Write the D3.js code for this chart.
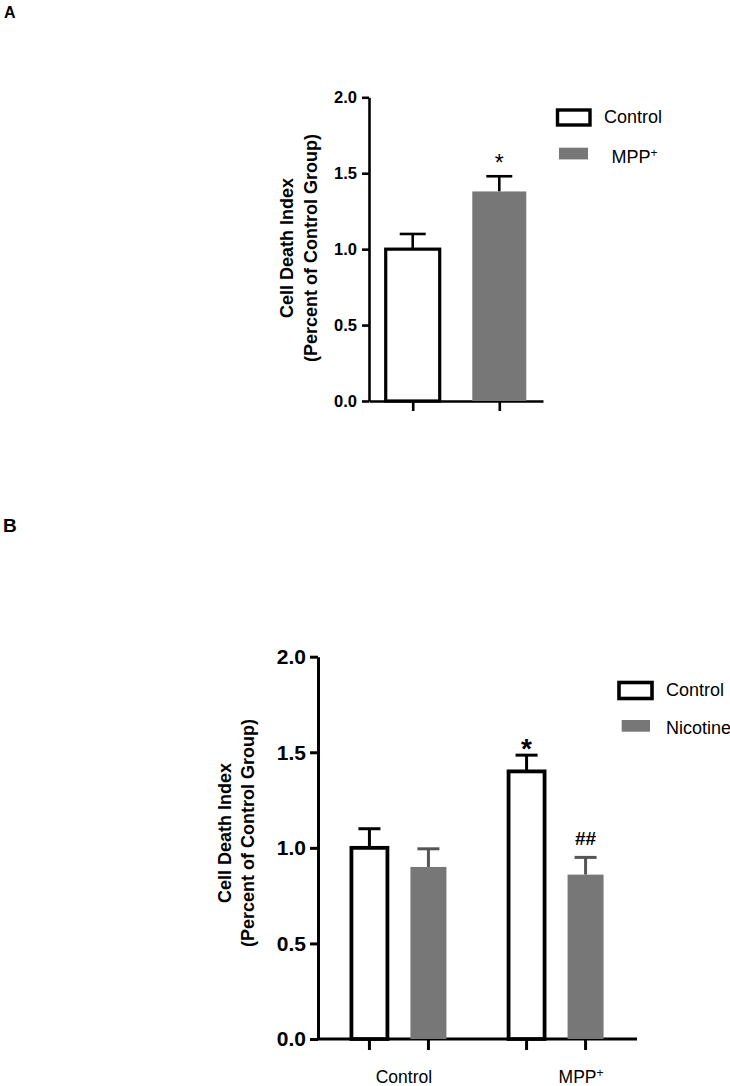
<!DOCTYPE html>
<html>
<head>
<meta charset="utf-8">
<script src="https://cdn.jsdelivr.net/npm/d3@7"></script>
<style>
  body { margin: 0; background: #fff; }
  svg { display: block; font-family: "Liberation Sans", Arial, Helvetica, sans-serif; }
</style>
</head>
<body>
<div id="chart-container"></div>
<script>
(function () {
    'use strict';

    // panel A
    var catsA = ['Control', 'MPP+'];
    var meansA = [1.00, 1.38];
    var semA = [0.10, 0.10];
    var starsA = ['', '*'];

    // panel B
    var groupsB = ['Control', 'MPP+'];
    var seriesB = ['Control', 'Nicotine'];
    var meansB = [[1.00, 0.90], [1.40, 0.86]];
    var semB = [[0.10, 0.095], [0.085, 0.09]];
    var marksB = [['', ''], ['*', '##']];

    var yTicks = [0, 0.5, 1.0, 1.5, 2.0];
    var gray = '#777777';

    var svg = d3.select('#chart-container')
        .append('svg')
        .attr('width', 730)
        .attr('height', 1086);

    // little helper for the "MPP+" labels with a raised plus
    function label(sel, txt, plusSize) {
        if (txt.slice(-1) === '+') {
            sel.text(txt.slice(0, -1));
            sel.append('tspan')
                .attr('font-size', plusSize)
                .attr('dy', '-0.5em')
                .text('+');
        } else {
            sel.text(txt);
        }
    }

    function yTitle(g, cx1, cx2, cy) {
        ['Cell Death Index', '(Percent of Control Group)'].forEach(function (t, i) {
            g.append('text')
                .attr('transform', 'translate(' + (i ? cx2 : cx1) + ',' + cy + ') rotate(-90)')
                .attr('text-anchor', 'middle')
                .attr('dy', '0.35em')
                .attr('font-size', 18)
                .attr('font-weight', 'bold')
                .text(t);
        });
    }

    function styleAxis(g, w, fs) {
        g.attr('font-family', null).attr('font-size', null);
        g.select('.domain').attr('stroke', '#000').attr('stroke-width', w);
        g.selectAll('.tick line').attr('stroke', '#000').attr('stroke-width', w);
        g.selectAll('.tick text').attr('fill', '#000').attr('font-weight', 'bold')
            .attr('font-size', fs);
    }

    // ---------------- Panel A ----------------
    svg.append('text')
        .attr('x', 4).attr('y', 18)
        .attr('font-size', 16).attr('font-weight', 'bold')
        .text('A');

    var yA = d3.scaleLinear().domain([0, 2]).range([401, 97.3]);
    var xA = d3.scalePoint().domain(catsA).range([369, 543]).padding(0.505);
    var bwA = 54;
    var gA = svg.append('g');

    var axA = gA.append('g')
        .attr('transform', 'translate(369,0)')
        .call(d3.axisLeft(yA).tickValues(yTicks).tickFormat(d3.format('.1f'))
            .tickSize(7).tickSizeOuter(0).tickPadding(5));
    styleAxis(axA, 2.6, 16.5);

    var axAx = gA.append('g')
        .attr('transform', 'translate(0,' + yA(0) + ')')
        .call(d3.axisBottom(xA).tickSize(10).tickSizeOuter(0).tickFormat(''));
    styleAxis(axAx, 2.6, 15);

    var barsA = gA.selectAll('.barA')
        .data(catsA.map(function (c, i) { return { c: c, m: meansA[i], s: semA[i], star: starsA[i], i: i }; }))
        .enter().append('g');

    barsA.append('line')
        .attr('x1', function (d) { return xA(d.c); })
        .attr('x2', function (d) { return xA(d.c); })
        .attr('y1', function (d) { return yA(d.m); })
        .attr('y2', function (d) { return yA(d.m + d.s); })
        .attr('stroke', '#000').attr('stroke-width', 2.6);
    barsA.append('line')
        .attr('x1', function (d) { return xA(d.c) - 13; })
        .attr('x2', function (d) { return xA(d.c) + 13; })
        .attr('y1', function (d) { return yA(d.m + d.s); })
        .attr('y2', function (d) { return yA(d.m + d.s); })
        .attr('stroke', '#000').attr('stroke-width', 2.6);
    barsA.append('rect')
        .attr('x', function (d) { return xA(d.c) - bwA / 2; })
        .attr('width', bwA)
        .attr('y', function (d) { return yA(d.m); })
        .attr('height', function (d) { return yA(0) - yA(d.m); })
        .attr('fill', function (d) { return d.i ? gray : '#fff'; })
        .attr('stroke', function (d) { return d.i ? 'none' : '#000'; })
        .attr('stroke-width', 3.2);
    barsA.append('text')
        .attr('x', function (d) { return xA(d.c); })
        .attr('y', function (d) { return yA(d.m + d.s) - 5; })
        .attr('text-anchor', 'middle')
        .attr('font-size', 23)
        .text(function (d) { return d.star; });

    yTitle(gA, 287, 311, 248);

    // legend A
    var legA = gA.append('g');
    legA.append('rect').attr('x', 557.5).attr('y', 110).attr('width', 32.5).attr('height', 15)
        .attr('fill', '#fff').attr('stroke', '#000').attr('stroke-width', 3.4);
    legA.append('text').attr('x', 604).attr('y', 123).attr('font-size', 18).text('Control');
    legA.append('rect').attr('x', 559).attr('y', 147.7).attr('width', 29).attr('height', 11.7)
        .attr('fill', gray);
    legA.append('text').attr('x', 611.5).attr('y', 163).attr('font-size', 18)
        .call(label, 'MPP+', 12);

    // ---------------- Panel B ----------------
    svg.append('text')
        .attr('x', 3).attr('y', 531.5)
        .attr('font-size', 19).attr('font-weight', 'bold')
        .text('B');

    var yB = d3.scaleLinear().domain([0, 2]).range([1039, 656.7]);
    var xB = d3.scalePoint().domain(groupsB).range([318, 637]).padding(0.515);
    var xSub = d3.scalePoint().domain(seriesB).range([-29.5, 29.5]);
    var bwB = 36;
    var gB = svg.append('g');

    var axB = gB.append('g')
        .attr('transform', 'translate(318,0)')
        .call(d3.axisLeft(yB).tickValues(yTicks).tickFormat(d3.format('.1f'))
            .tickSize(8).tickSizeOuter(0).tickPadding(4));
    styleAxis(axB, 3, 21);

    gB.append('line')
        .attr('x1', xB.range()[0]).attr('x2', xB.range()[1])
        .attr('y1', yB(0)).attr('y2', yB(0))
        .attr('stroke', '#000').attr('stroke-width', 3);

    var dataB = [];
    groupsB.forEach(function (g, gi) {
        seriesB.forEach(function (s, si) {
            dataB.push({ g: g, s: s, si: si, m: meansB[gi][si], e: semB[gi][si], mark: marksB[gi][si] });
        });
    });
    function cxB(d) { return xB(d.g) + xSub(d.s); }

    var barsB = gB.selectAll('.barB').data(dataB).enter().append('g');

    barsB.append('line')
        .attr('x1', cxB).attr('x2', cxB)
        .attr('y1', yB(0)).attr('y2', yB(0) + 11)
        .attr('stroke', '#000').attr('stroke-width', 3);
    barsB.append('line')
        .attr('x1', cxB).attr('x2', cxB)
        .attr('y1', function (d) { return yB(d.m); })
        .attr('y2', function (d) { return yB(d.m + d.e); })
        .attr('stroke', function (d) { return d.si ? '#555' : '#000'; })
        .attr('stroke-width', 3);
    barsB.append('line')
        .attr('x1', function (d) { return cxB(d) - 11; })
        .attr('x2', function (d) { return cxB(d) + 11; })
        .attr('y1', function (d) { return yB(d.m + d.e); })
        .attr('y2', function (d) { return yB(d.m + d.e); })
        .attr('stroke', function (d) { return d.si ? '#555' : '#000'; })
        .attr('stroke-width', 3);
    barsB.append('rect')
        .attr('x', function (d) { return cxB(d) - bwB / 2; })
        .attr('width', bwB)
        .attr('y', function (d) { return yB(d.m); })
        .attr('height', function (d) { return yB(0) - yB(d.m); })
        .attr('fill', function (d) { return d.si ? gray : '#fff'; })
        .attr('stroke', function (d) { return d.si ? 'none' : '#000'; })
        .attr('stroke-width', 3.8);
    barsB.append('text')
        .attr('x', cxB)
        .attr('y', function (d) { return d.mark === '*' ? yB(d.m + d.e) + 3 : yB(d.m + d.e) - 12; })
        .attr('text-anchor', 'middle')
        .attr('font-size', function (d) { return d.mark === '*' ? 28 : 19; })
        .attr('font-weight', 'bold')
        .text(function (d) { return d.mark; });

    gB.selectAll('.grp').data(groupsB).enter().append('text')
        .attr('x', function (d) { return xB(d) + (d === 'Control' ? 5 : 25); })
        .attr('y', 1083)
        .attr('text-anchor', 'middle')
        .attr('font-size', 17.5)
        .each(function (d) { d3.select(this).call(label, d, 12); });

    yTitle(gB, 225, 248, 833);

    // legend B
    var legB = gB.append('g');
    legB.append('rect').attr('x', 619).attr('y', 682.5).attr('width', 33).attr('height', 16)
        .attr('fill', '#fff').attr('stroke', '#000').attr('stroke-width', 3.6);
    legB.append('text').attr('x', 666).attr('y', 696).attr('font-size', 18).text('Control');
    legB.append('rect').attr('x', 621.7).attr('y', 720).attr('width', 28.3).attr('height', 11.7)
        .attr('fill', gray);
    legB.append('text').attr('x', 666).attr('y', 734).attr('font-size', 18).text('Nicotine');
}());
</script>
</body>
</html>
